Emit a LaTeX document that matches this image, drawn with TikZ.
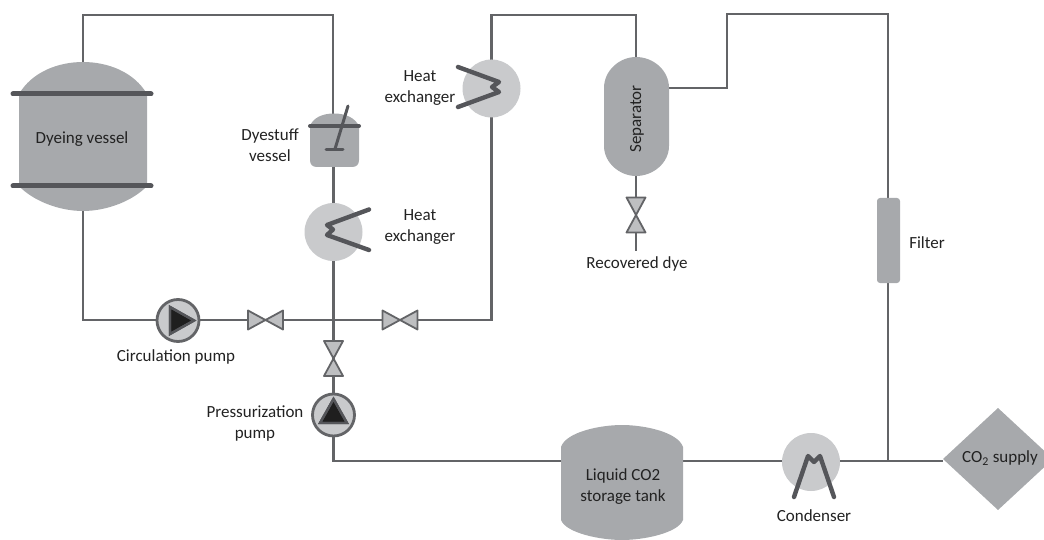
\documentclass[tikz,border=0pt]{standalone}
\usepackage{fontspec}
\setmainfont{Carlito}
\definecolor{vesselgray}{HTML}{A7A9AC}
\definecolor{hxgray}{HTML}{C9CACC}
\definecolor{pipegray}{HTML}{636467}
\definecolor{darkbar}{HTML}{55565A}
\definecolor{inkgray}{HTML}{222222}
\tikzset{
  x=1pt,y=-1pt,
  pipe/.style={draw=pipegray,line width=2.8pt,line join=miter},
  bar/.style={draw=darkbar,line width=5pt,line cap=round},
  coil/.style={draw=darkbar,line width=4.4pt,line join=round,line cap=round},
  vessel/.style={fill=vesselgray,draw=none},
  hx/.style={circle,fill=hxgray,draw=none,minimum size=58pt,inner sep=0pt},
  label/.style={font=\fontsize{17}{21}\selectfont,text=inkgray,align=center,inner sep=0pt},
  valvepart/.style={fill=hxgray!85!gray,draw=pipegray,line width=1.8pt,line join=round},
  pumpring/.style={circle,fill=hxgray,draw=pipegray,line width=2.8pt,minimum size=42pt,inner sep=0pt},
  pumptri/.style={fill=black!88,draw=darkbar,line width=2.4pt,line join=miter}
}
\newcommand{\hvalve}[2]{%
  \draw[valvepart] (#1-17.5,#2-9.5) -- (#1,#2) -- (#1-17.5,#2+9.5) -- cycle;
  \draw[valvepart] (#1+17.5,#2-9.5) -- (#1,#2) -- (#1+17.5,#2+9.5) -- cycle;}
\newcommand{\vvalve}[2]{%
  \draw[valvepart] (#1-9.5,#2-17.5) -- (#1,#2) -- (#1+9.5,#2-17.5) -- cycle;
  \draw[valvepart] (#1-9.5,#2+17.5) -- (#1,#2) -- (#1+9.5,#2+17.5) -- cycle;}
\begin{document}
\begin{tikzpicture}
\useasboundingbox (0,0) rectangle (1044,540);
% anchor coordinates
\coordinate (dvtop) at (83,62);
\coordinate (dvbot) at (83,211);
\coordinate (c1) at (83,15);
\coordinate (c2) at (333,15);
\coordinate (c3) at (83,320);
\coordinate (dstop) at (333,114);
\coordinate (dsbot) at (333,166);
\coordinate (hx1) at (333.5,232);
\coordinate (hx2) at (491.5,88.5);
\coordinate (c4) at (491.5,320);
\coordinate (c5) at (491.5,15);
\coordinate (c6) at (636,15);
\coordinate (septop) at (636,57);
\coordinate (sepbot) at (636,176);
\coordinate (sepright) at (668,88);
\coordinate (c7) at (727,88);
\coordinate (c8) at (727,14);
\coordinate (c9) at (888,14);
\coordinate (filtop) at (888,198);
\coordinate (filbot) at (888,283);
\coordinate (c10) at (888,461);
\coordinate (recov) at (636,251);
\coordinate (c11) at (333.5,461);
\coordinate (tankl) at (562,461);
\coordinate (tankr) at (682,461);
\coordinate (cond) at (811,462);
\coordinate (sup) at (943,461);
\coordinate (pp1) at (178,320.5);
\coordinate (pp2) at (333.5,415);
% pipes
\draw[pipe] (dvtop) -- (c1) -- (c2) -- (dstop);
\draw[pipe] (dsbot) -- (hx1 |- dsbot) -- (hx1);
\draw[pipe] (hx1) -- (pp2);
\draw[pipe] (dvbot) -- (c3) -- (c4) -- (hx2);
\draw[pipe] (hx2) -- (c5) -- (c6) -- (septop);
\draw[pipe] (sepbot) -- (recov);
\draw[pipe] (sepright) -- (c7) -- (c8) -- (c9) -- (filtop);
\draw[pipe] (filbot) -- (c10);
\draw[pipe] (pp2) -- (c11) -- (tankl);
\draw[pipe] (tankr) -- (sup);
% dyeing vessel
\fill[vessel] (19,94) .. controls (32,72) and (58,62) .. (83,62) .. controls (108,62) and (134,72) .. (147,94) -- (147,186) .. controls (134,200) and (108,211) .. (83,211) .. controls (58,211) and (32,200) .. (19,186) -- cycle;
\draw[bar] (13,94) -- (151,94);
\draw[bar] (13,186) -- (151,186);
\node[label] (dyeing) at (82,139.5) {Dyeing vessel};
% dyestuff vessel
\fill[vessel] (310,126) .. controls (313,118) and (322,113.5) .. (334,113.5) .. controls (346,113.5) and (355,118) .. (359,126) -- (359,160) .. controls (359,164.5) and (356.5,167) .. (352,167) -- (317,167) .. controls (312.5,167) and (310,164.5) .. (310,160) -- cycle;
\draw[bar,line width=4pt] (310,126) -- (359,126);
\draw[coil,line width=3pt] (348,106) -- (335,149);
\draw[coil,line width=3pt] (326,149.5) -- (343,149.5);
\node[label] (dyestuff) at (270,145.5) {Dyestuff\\vessel};
% heat exchangers
\node[hx] (hxa) at (hx1) {};
\draw[coil] (369,209.5) -- (327,225) -- (333,229.5) -- (327,235) -- (369,250);
\node[label] (hxalabel) at (420,227) {Heat\\exchanger};
\node[hx] (hxb) at (hx2) {};
\draw[coil] (458,67) -- (499,82) -- (492,87) -- (499,92) -- (458,107);
\node[label] (hxblabel) at (420,88) {Heat\\exchanger};
% separator
\fill[vessel] (604,88) .. controls (604,70) and (620,57) .. (636,57) .. controls (653,57) and (669,70) .. (669,88) -- (669,146) .. controls (669,163) and (653,176) .. (636,176) .. controls (620,176) and (604,163) .. (604,146) -- cycle;
\node[label,rotate=90] (seplabel) at (637,119) {Separator};
\vvalve{636}{215}
\node[label] (recovlabel) at (637,263.5) {Recovered dye};
% filter
\fill[vessel,rounded corners=3pt] (877,198) rectangle (900,283);
\node[label] (filterlabel) at (927,242.5) {Filter};
% valves
\hvalve{265.5}{320}
\hvalve{400}{320}
\vvalve{333.5}{358.5}
% pumps
\node[pumpring] (pumpa) at (pp1) {};
\fill[pumptri] (170,307) -- (194,320.5) -- (170,334) -- cycle;
\draw[pumptri,fill=none] (170,307) -- (194,320.5) -- (170,334) -- cycle;
\node[label] (pumpalabel) at (176,356.5) {Circulation pump};
\node[pumpring] (pumpb) at (pp2) {};
\fill[pumptri] (320,423) -- (333.5,399) -- (347,423) -- cycle;
\draw[pumptri,fill=none] (320,423) -- (333.5,399) -- (347,423) -- cycle;
\node[label] (pumpblabel) at (255,423) {Pressurization\\pump};
% tank
\fill[vessel] (561,447) .. controls (566,432) and (600,425) .. (622,425) .. controls (644,425) and (678,432) .. (683,447) -- (683,520) .. controls (678,533) and (644,540) .. (622,540) .. controls (600,540) and (566,533) .. (561,520) -- cycle;
\node[label] (tanklabel) at (623,486.5) {Liquid CO2\\storage tank};
% condenser
\node[hx] (conda) at (cond) {};
\draw[coil] (794,497) -- (808,456) -- (814,462) -- (820,456) -- (834,497);
\node[label] (condlabel) at (814,516) {Condenser};
% CO2 supply
\fill[vessel] (943,459) -- (998,408) -- (1044,450.6) -- (1044,467.4) -- (998,510) -- cycle;
\node[label] (co2) at (1000,458) {CO\textsubscript{2} supply};
\end{tikzpicture}
\end{document}
